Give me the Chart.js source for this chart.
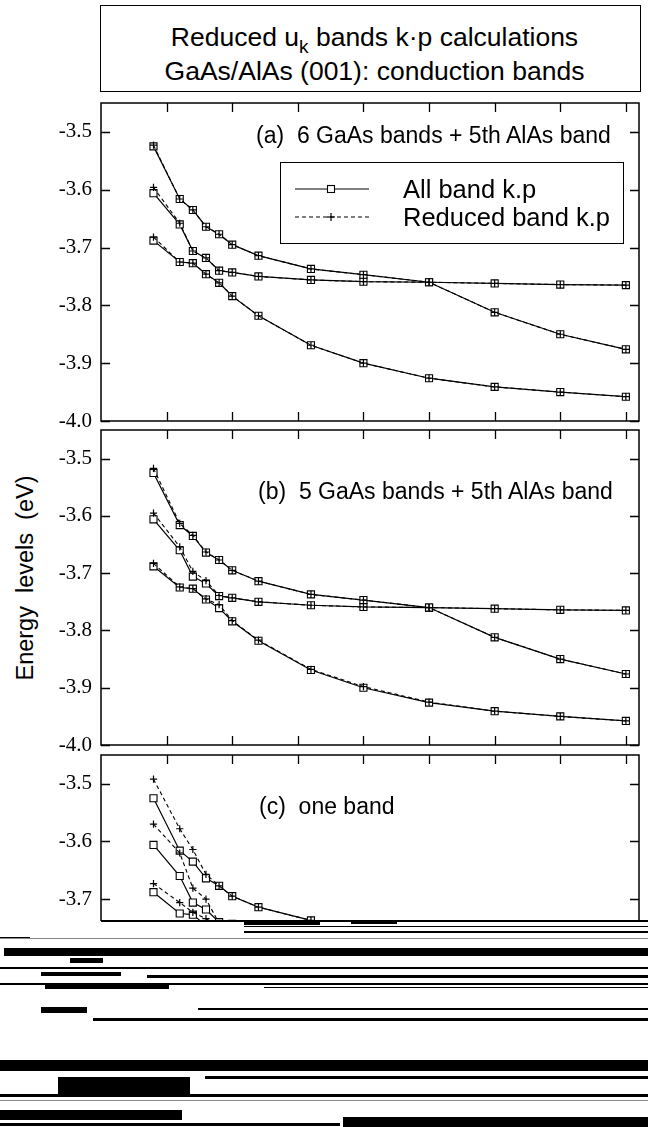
<!DOCTYPE html>
<html>
<head>
<meta charset="utf-8">
<title>Reduced u_k bands k·p calculations</title>
<script src="https://cdn.jsdelivr.net/npm/chart.js@4.4.1/dist/chart.umd.min.js"></script>
<style>
  html, body { margin: 0; padding: 0; background: #fff; }
  body { position: relative; width: 648px; height: 1127px; overflow: hidden;
         font-family: "Liberation Sans", Arial, Helvetica, sans-serif; color: #000; }
  .abs { position: absolute; }
  #title-box { left: 100px; top: 5px; width: 541px; height: 87px; border: 1.4px solid #000; box-sizing: border-box; }
  .title-line { position: absolute; left: 100px; width: 541px; padding-left: 8px; box-sizing: border-box;
                text-align: center; font-size: 26.5px; line-height: 30px; white-space: nowrap; }
  .sub { font-size: 19px; position: relative; top: 7px; }
  .panel-label { position: absolute; font-size: 23px; line-height: 28px; white-space: pre; }
  #ylabel { position: absolute; left: 25px; top: 578px; transform: translate(-50%, -50%) rotate(-90deg);
            font-size: 23.5px; line-height: 26px; white-space: pre; }
  #legend { left: 280px; top: 162px; width: 344px; height: 82px; border: 1.2px solid #000;
            box-sizing: border-box; background: #fff; }
  #legend svg { position: absolute; left: 0; top: 0; }
  .legend-text { position: absolute; left: 122px; font-size: 25.5px; line-height: 28px; white-space: nowrap; }
  canvas { display: block; }
  .panel { position: absolute; left: 0; }
  #crop-c { position: absolute; left: 0; top: 731px; width: 648px; height: 190px; overflow: hidden; }
  #smear div { position: absolute; background: #000; }
</style>
</head>
<body>

<div id="title-box" class="abs"></div>
<div class="title-line" style="top:22px">Reduced u<span class="sub">k</span> bands k·p calculations</div>
<div class="title-line" style="top:56px">GaAs/AlAs (001): conduction bands</div>

<div id="ylabel">Energy  levels  (eV)</div>

<canvas id="panelA" class="panel" width="648" height="366" style="top:79px"></canvas>
<canvas id="panelB" class="panel" width="648" height="363" style="top:406px"></canvas>
<div id="crop-c"><canvas id="panelC" width="648" height="365"></canvas></div>

<div class="panel-label" style="left:256px; top:121px">(a)  6 GaAs bands + 5th AlAs band</div>
<div class="panel-label" style="left:258px; top:477px">(b)  5 GaAs bands + 5th AlAs band</div>
<div class="panel-label" style="left:259px; top:792px">(c)  one band</div>

<div id="legend" class="abs">
  <svg width="344" height="82">
    <line x1="14" y1="26" x2="88" y2="26" stroke="#000" stroke-width="1.2"/>
    <rect x="46.5" y="22.5" width="7" height="7" fill="#fff" stroke="#000" stroke-width="1.1"/>
    <line x1="14" y1="54" x2="88" y2="54" stroke="#000" stroke-width="1.2" stroke-dasharray="4 3"/>
    <line x1="50" y1="50" x2="50" y2="58" stroke="#000" stroke-width="1.2"/>
    <line x1="46" y1="54" x2="54" y2="54" stroke="#000" stroke-width="1.2"/>
  </svg>
  <div class="legend-text" style="top:12px">All band k.p</div>
  <div class="legend-text" style="top:40px">Reduced band k.p</div>
</div>

<div id="smear">
  <div style="top:920px; left:101px; width:547px; height:2px"></div>
  <div style="top:922px; left:244px; width:76px; height:3px"></div>
  <div style="top:922px; left:351px; width:46px; height:2px"></div>
  <div style="top:926px; left:244px; width:404px; height:1px"></div>
  <div style="top:931px; left:244px; width:404px; height:2px"></div>
  <div style="top:937px; left:0px; width:30px; height:2px"></div>
  <div style="top:938px; left:0px; width:648px; height:1px; background:#888"></div>
  <div style="top:948px; left:4px; width:644px; height:8px"></div>
  <div style="top:958px; left:70px; width:33px; height:5px"></div>
  <div style="top:967px; left:0px; width:648px; height:2px"></div>
  <div style="top:975px; left:147px; width:501px; height:3px"></div>
  <div style="top:972px; left:41px; width:80px; height:4px"></div>
  <div style="top:983px; left:0px; width:648px; height:2px"></div>
  <div style="top:983px; left:45px; width:124px; height:6px"></div>
  <div style="top:987px; left:264px; width:384px; height:1px"></div>
  <div style="top:1008px; left:198px; width:450px; height:2px"></div>
  <div style="top:1007px; left:41px; width:46px; height:6px"></div>
  <div style="top:1018px; left:93px; width:555px; height:3px"></div>
  <div style="top:1060px; left:0px; width:648px; height:11px"></div>
  <div style="top:1076px; left:205px; width:443px; height:3px"></div>
  <div style="top:1077px; left:58px; width:132px; height:19px"></div>
  <div style="top:1094px; left:0px; width:648px; height:3px"></div>
  <div style="top:1100px; left:0px; width:648px; height:1px; background:#888"></div>
  <div style="top:1110px; left:0px; width:182px; height:10px"></div>
  <div style="top:1123px; left:0px; width:340px; height:3px"></div>
  <div style="top:1117px; left:343px; width:305px; height:10px"></div>
</div>

<script>
// Well width (tick units) at which the levels were computed
const kValues = [0.8, 1.2, 1.4, 1.6, 1.8, 2.0, 2.4, 3.2, 4, 5, 6, 7, 8];
const xTickValues = [1, 2, 3, 4, 5, 6, 7, 8];
const yTickValues = [-4.0, -3.9, -3.8, -3.7, -3.6, -3.5];
const xRange = [0, 8.2];
const yRange = [-4.0, -3.45];

// All band k.p levels (eV) — the same reference calculation in every panel
const allBand1 = [-3.525, -3.616, -3.635, -3.664, -3.677, -3.695, -3.714, -3.737, -3.747, -3.760, -3.812, -3.850, -3.876];
const allBand2 = [-3.606, -3.660, -3.706, -3.718, -3.740, -3.743, -3.750, -3.756, -3.759, -3.760, -3.762, -3.764, -3.765];
const allBand3 = [-3.688, -3.725, -3.727, -3.746, -3.761, -3.784, -3.818, -3.869, -3.900, -3.926, -3.941, -3.950, -3.958];

// Reduced band k.p, (a) 6 GaAs bands + 5th AlAs band
const reducedA1 = [-3.523, -3.616, -3.635, -3.664, -3.677, -3.695, -3.714, -3.737, -3.747, -3.760, -3.812, -3.850, -3.876];
const reducedA2 = [-3.596, -3.658, -3.706, -3.718, -3.740, -3.743, -3.750, -3.756, -3.759, -3.760, -3.762, -3.764, -3.765];
const reducedA3 = [-3.682, -3.725, -3.727, -3.746, -3.761, -3.784, -3.818, -3.869, -3.900, -3.926, -3.941, -3.950, -3.958];

// Reduced band k.p, (b) 5 GaAs bands + 5th AlAs band
const reducedB1 = [-3.517, -3.613, -3.634, -3.663, -3.677, -3.695, -3.714, -3.737, -3.747, -3.760, -3.812, -3.850, -3.876];
const reducedB2 = [-3.595, -3.654, -3.697, -3.713, -3.739, -3.743, -3.750, -3.756, -3.759, -3.760, -3.762, -3.764, -3.765];
const reducedB3 = [-3.683, -3.724, -3.727, -3.745, -3.755, -3.783, -3.817, -3.868, -3.898, -3.925, -3.941, -3.950, -3.958];

// Reduced band k.p, (c) one band (only the upper part of this panel is shown)
const reducedC1 = [-3.492, -3.578, -3.614, -3.657, -3.677, -3.695, -3.714, -3.737];
const reducedC2 = [-3.570, -3.620, -3.681, -3.700, -3.742];
const reducedC3 = [-3.673, -3.706, -3.723, -3.734, -3.748];

const points = vals => vals.map((v, i) => ({ x: kValues[i], y: v }));

// Closed frame with inward tick marks on all four sides
const framePlugin = {
  id: 'frame',
  afterDraw(chart) {
    const { ctx, chartArea: a, scales: { x, y } } = chart;
    const len = 9;
    ctx.save();
    ctx.strokeStyle = '#000';
    ctx.lineWidth = 1.5;
    ctx.strokeRect(a.left, a.top, a.right - a.left, a.bottom - a.top);
    ctx.lineWidth = 1.3;
    ctx.beginPath();
    x.ticks.forEach(t => {
      const px = Math.round(x.getPixelForValue(t.value)) + 0.5;
      ctx.moveTo(px, a.top); ctx.lineTo(px, a.top + len);
      ctx.moveTo(px, a.bottom); ctx.lineTo(px, a.bottom - len);
    });
    y.ticks.forEach(t => {
      const py = Math.round(y.getPixelForValue(t.value)) + 0.5;
      ctx.moveTo(a.left, py); ctx.lineTo(a.left + len, py);
      ctx.moveTo(a.right, py); ctx.lineTo(a.right - len, py);
    });
    ctx.stroke();
    ctx.restore();
  }
};

function makePanel(id, allSets, reducedSets) {
  const datasets = [];
  allSets.forEach(vals => datasets.push({
    label: 'All band k.p', data: points(vals),
    borderColor: '#000', borderWidth: 1.2, tension: 0,
    pointStyle: 'rect', pointRadius: 5, pointBackgroundColor: '#fff',
    pointBorderColor: '#000', pointBorderWidth: 1.1, order: 2
  }));
  reducedSets.forEach(vals => datasets.push({
    label: 'Reduced band k.p', data: points(vals),
    borderColor: '#000', borderWidth: 1.1, borderDash: [4, 3], tension: 0,
    pointStyle: 'cross', pointRadius: 3.6, pointBorderColor: '#000',
    pointBorderWidth: 1.2, order: 1
  }));
  return new Chart(document.getElementById(id), {
    type: 'line',
    data: { datasets },
    options: {
      responsive: false,
      animation: false,
      events: [],
      layout: { padding: { top: 24, bottom: 24, left: 0, right: 9 } },
      plugins: { legend: { display: false }, tooltip: { enabled: false } },
      scales: {
        x: {
          type: 'linear', min: xRange[0], max: xRange[1],
          afterBuildTicks: s => { s.ticks = xTickValues.map(v => ({ value: v })); },
          ticks: { display: false },
          grid: { display: false, drawTicks: false },
          border: { display: false },
          afterFit: s => { s.height = 0; }
        },
        y: {
          type: 'linear', min: yRange[0], max: yRange[1],
          afterBuildTicks: s => { s.ticks = yTickValues.map(v => ({ value: v })); },
          ticks: {
            padding: 9, color: '#000',
            font: { family: '"Liberation Serif", "Times New Roman", serif', size: 21 },
            callback: v => Number(v).toFixed(1)
          },
          grid: { display: false, drawTicks: false },
          border: { display: false },
          afterFit: s => { s.width = 101; }
        }
      }
    },
    plugins: [framePlugin]
  });
}

makePanel('panelA', [allBand1, allBand2, allBand3], [reducedA1, reducedA2, reducedA3]);
makePanel('panelB', [allBand1, allBand2, allBand3], [reducedB1, reducedB2, reducedB3]);
makePanel('panelC', [allBand1, allBand2, allBand3], [reducedC1, reducedC2, reducedC3]);
</script>
</body>
</html>
